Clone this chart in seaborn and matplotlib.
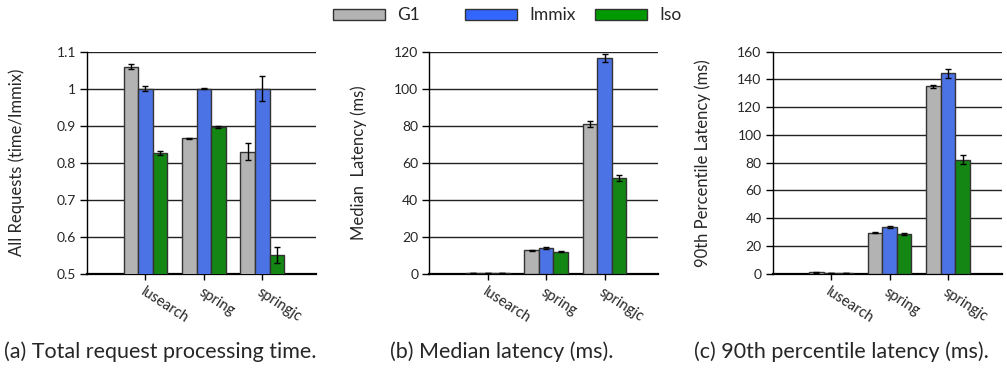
import pandas as pd
import matplotlib.pyplot as plt
import seaborn as sns
from matplotlib.patches import Patch

# Dữ liệu
benchmarks = ['lusearch', 'spring', 'springjc']
collectors = ['G1', 'Immix', 'Iso']
colors = {'G1': '#b3b3b3', 'Immix': '#3366ff', 'Iso': '#009900'}

# (a) thời gian xử lý (time/Immix)
total_g1 = [1.059, 0.866, 0.830]
total_immix = [1.000, 1.000, 1.000]
total_iso = [0.826, 0.896, 0.551]
total_g1_err = [0.007, 0.002, 0.023]
total_immix_err = [0.007, 0.002, 0.033]
total_iso_err = [0.006, 0.003, 0.022]

# (b) median latency (ms)
median_g1 = [0.3, 12.6, 80.8]
median_immix = [0.3, 13.7, 116.4]
median_iso = [0.3, 11.9, 51.7]
median_g1_err = [0.05, 0.4, 1.5]
median_immix_err = [0.05, 0.5, 2.2]
median_iso_err = [0.05, 0.3, 1.8]

# (c) 90th percentile latency (ms)
p90_g1 = [0.9, 29.5, 134.9]
p90_immix = [0.3, 33.6, 144.3]
p90_iso = [0.3, 28.6, 82.2]
p90_g1_err = [0.1, 0.5, 1.0]
p90_immix_err = [0.05, 1.0, 3.3]
p90_iso_err = [0.05, 0.5, 3.0]

panels = [
    ([total_g1, total_immix, total_iso], [total_g1_err, total_immix_err, total_iso_err],
     'All Requests (time/Immix)', (0.5, 1.1), [0.5, 0.6, 0.7, 0.8, 0.9, 1.0, 1.1],
     ['0.5', '0.6', '0.7', '0.8', '0.9', '1', '1.1'], '(a) Total request processing time.'),
    ([median_g1, median_immix, median_iso], [median_g1_err, median_immix_err, median_iso_err],
     'Median  Latency (ms)', (0, 120), [0, 20, 40, 60, 80, 100, 120], None,
     '(b) Median latency (ms).'),
    ([p90_g1, p90_immix, p90_iso], [p90_g1_err, p90_immix_err, p90_iso_err],
     '90th Percentile Latency (ms)', (0, 160), [0, 20, 40, 60, 80, 100, 120, 140, 160], None,
     '(c) 90th percentile latency (ms).'),
]

sns.set_style('white')
plt.rcParams['font.family'] = ['Lato', 'DejaVu Sans']

fig = plt.figure(figsize=(10.07, 3.68), dpi=100)
lefts = [0.0864, 0.4263, 0.7673]
caption_x = [0.159, 0.498, 0.836]

for i, (vals, errs, ylabel, ylim, yticks, yticklabels, caption) in enumerate(panels):
    ax = fig.add_axes([lefts[i], 0.2563, 0.2274, 0.6033])
    rows = []
    for c, v, e in zip(collectors, vals, errs):
        for b, vv, ee in zip(benchmarks, v, e):
            rows.append({'benchmark': b, 'collector': c, 'value': vv, 'err': ee})
    df = pd.DataFrame(rows)

    sns.barplot(data=df, x='benchmark', y='value', hue='collector', order=benchmarks,
                hue_order=collectors, palette=colors, width=0.75, errorbar=None,
                edgecolor='#333333', linewidth=1, legend=False, ax=ax, zorder=3)

    # error bars lấy vị trí từ các cột
    for cont, c in zip(ax.containers, collectors):
        sub = df[df['collector'] == c].set_index('benchmark').loc[benchmarks]
        xs = [p.get_x() + p.get_width() / 2 for p in cont.patches]
        ax.errorbar(xs, sub['value'], yerr=sub['err'], fmt='none', ecolor='black',
                    elinewidth=1, capsize=2, capthick=1, zorder=4)

    ax.set_ylim(*ylim)
    ax.set_xlim(-1.0, 2.92)
    ax.set_yticks(yticks)
    if yticklabels:
        ax.set_yticklabels(yticklabels)
    ax.grid(axis='y', color='#222222', linewidth=1, zorder=0)
    ax.set_axisbelow(True)
    for s in ['top', 'right']:
        ax.spines[s].set_visible(False)
    ax.spines['left'].set_color('black')
    ax.spines['left'].set_linewidth(1)
    ax.spines['bottom'].set_color('black')
    ax.spines['bottom'].set_linewidth(1.6)
    ax.tick_params(axis='y', left=True, length=5, width=1, color='black', labelsize=10, pad=3)
    ax.tick_params(axis='x', bottom=True, length=4, width=1, color='black', labelsize=10.5, pad=4)
    plt.setp(ax.get_xticklabels(), rotation=-33, ha='left', va='top', rotation_mode='anchor')
    ax.set_xlabel('')
    ax.set_ylabel(ylabel, fontsize=12)
    ax.yaxis.set_label_coords(-0.27, 0.5)

    fig.text(caption_x[i], 0.043, caption, ha='center', va='center', fontsize=15.5)

# chú thích: mỗi mục đặt riêng để giữ khoảng cách đều
legend_x = [333, 465, 595]
for c, lx in zip(collectors, legend_x):
    h = Patch(facecolor=colors[c], edgecolor='#333333', linewidth=1)
    fig.legend([h], [c], loc='center left', bbox_to_anchor=(lx / 1007, 0.958),
               frameon=False, fontsize=12.5, handlelength=3.0, handleheight=0.6,
               handletextpad=0.7, borderpad=0, borderaxespad=0)

fig.savefig('out.png', dpi=100)
